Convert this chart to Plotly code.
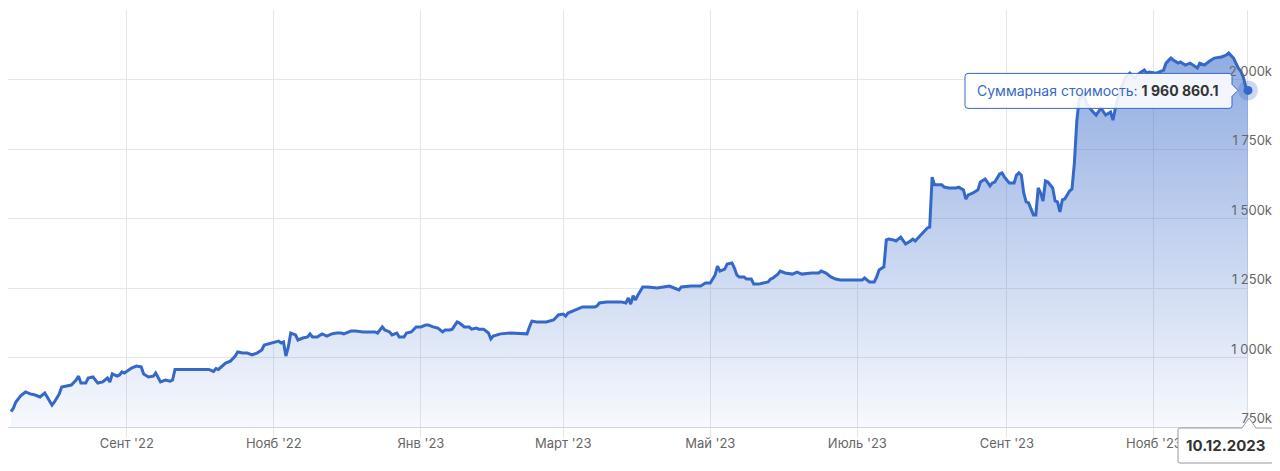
import pandas as pd
import plotly.graph_objects as go

# portfolio value, thousands of rubles
dates = [
    '2022-07-15', '2022-07-16', '2022-07-17', '2022-07-19', '2022-07-21', '2022-07-23', '2022-07-25', '2022-07-27',
    '2022-07-29', '2022-07-30', '2022-08-01', '2022-08-02', '2022-08-04', '2022-08-05', '2022-08-07', '2022-08-09',
    '2022-08-11', '2022-08-12', '2022-08-13', '2022-08-15', '2022-08-16', '2022-08-18', '2022-08-20', '2022-08-22',
    '2022-08-24', '2022-08-25', '2022-08-26', '2022-08-28', '2022-08-29', '2022-08-30', '2022-08-31', '2022-09-02',
    '2022-09-03', '2022-09-05', '2022-09-07', '2022-09-08', '2022-09-10', '2022-09-12', '2022-09-13', '2022-09-15',
    '2022-09-17', '2022-09-19', '2022-09-20', '2022-09-21', '2022-09-26', '2022-10-05', '2022-10-07', '2022-10-08',
    '2022-10-09', '2022-10-12', '2022-10-14', '2022-10-16', '2022-10-17', '2022-10-19', '2022-10-21', '2022-10-23',
    '2022-10-25', '2022-10-27', '2022-10-28', '2022-10-31', '2022-11-01', '2022-11-03', '2022-11-04', '2022-11-05',
    '2022-11-06', '2022-11-07', '2022-11-08', '2022-11-10', '2022-11-11', '2022-11-13', '2022-11-15', '2022-11-16',
    '2022-11-17', '2022-11-19', '2022-11-21', '2022-11-23', '2022-11-25', '2022-11-27', '2022-11-29', '2022-11-30',
    '2022-12-03', '2022-12-05', '2022-12-08', '2022-12-11', '2022-12-13', '2022-12-14', '2022-12-16', '2022-12-17',
    '2022-12-19', '2022-12-20', '2022-12-22', '2022-12-23', '2022-12-25', '2022-12-26', '2022-12-28', '2022-12-30',
    '2023-01-01', '2023-01-03', '2023-01-04', '2023-01-06', '2023-01-08', '2023-01-10', '2023-01-11', '2023-01-13',
    '2023-01-14', '2023-01-16', '2023-01-17', '2023-01-19', '2023-01-21', '2023-01-22', '2023-01-24', '2023-01-25',
    '2023-01-27', '2023-01-29', '2023-01-30', '2023-01-31', '2023-02-03', '2023-02-07', '2023-02-11', '2023-02-14',
    '2023-02-15', '2023-02-16', '2023-02-18', '2023-02-22', '2023-02-25', '2023-02-27', '2023-03-01', '2023-03-02',
    '2023-03-03', '2023-03-05', '2023-03-07', '2023-03-09', '2023-03-12', '2023-03-14', '2023-03-15', '2023-03-16',
    '2023-03-19', '2023-03-25', '2023-03-27', '2023-03-28', '2023-03-29', '2023-03-30', '2023-03-31', '2023-04-01',
    '2023-04-03', '2023-04-05', '2023-04-09', '2023-04-12', '2023-04-14', '2023-04-16', '2023-04-18', '2023-04-19',
    '2023-04-23', '2023-04-27', '2023-04-29', '2023-05-01', '2023-05-03', '2023-05-04', '2023-05-05', '2023-05-07',
    '2023-05-08', '2023-05-10', '2023-05-11', '2023-05-12', '2023-05-13', '2023-05-15', '2023-05-16', '2023-05-18',
    '2023-05-19', '2023-05-21', '2023-05-23', '2023-05-25', '2023-05-26', '2023-05-27', '2023-05-29', '2023-05-30',
    '2023-06-01', '2023-06-04', '2023-06-06', '2023-06-08', '2023-06-12', '2023-06-15', '2023-06-16', '2023-06-18',
    '2023-06-20', '2023-06-22', '2023-06-24', '2023-06-29', '2023-07-03', '2023-07-04', '2023-07-06', '2023-07-08',
    '2023-07-09', '2023-07-10', '2023-07-12', '2023-07-13', '2023-07-14', '2023-07-16', '2023-07-17', '2023-07-19',
    '2023-07-21', '2023-07-23', '2023-07-24', '2023-07-25', '2023-07-27', '2023-07-28', '2023-07-30', '2023-07-31',
    '2023-08-01', '2023-08-02', '2023-08-03', '2023-08-05', '2023-08-06', '2023-08-08', '2023-08-11', '2023-08-12',
    '2023-08-14', '2023-08-15', '2023-08-16', '2023-08-18', '2023-08-20', '2023-08-21', '2023-08-23', '2023-08-25',
    '2023-08-26', '2023-08-27', '2023-08-29', '2023-08-30', '2023-08-31', '2023-09-02', '2023-09-04', '2023-09-05',
    '2023-09-06', '2023-09-07', '2023-09-08', '2023-09-09', '2023-09-10', '2023-09-12', '2023-09-13', '2023-09-14',
    '2023-09-15', '2023-09-16', '2023-09-17', '2023-09-18', '2023-09-20', '2023-09-21', '2023-09-22', '2023-09-23',
    '2023-09-24', '2023-09-25', '2023-09-27', '2023-09-28', '2023-09-29', '2023-09-30', '2023-10-01', '2023-10-03',
    '2023-10-04', '2023-10-06', '2023-10-08', '2023-10-10', '2023-10-12', '2023-10-14', '2023-10-15', '2023-10-16',
    '2023-10-18', '2023-10-20', '2023-10-22', '2023-10-24', '2023-10-26', '2023-10-28', '2023-10-29', '2023-10-30',
    '2023-11-02', '2023-11-03', '2023-11-05', '2023-11-06', '2023-11-08', '2023-11-09', '2023-11-11', '2023-11-12',
    '2023-11-14', '2023-11-16', '2023-11-18', '2023-11-19', '2023-11-20', '2023-11-22', '2023-11-24', '2023-11-26',
    '2023-11-29', '2023-12-01', '2023-12-02', '2023-12-04', '2023-12-06', '2023-12-07', '2023-12-08', '2023-12-09',
    '2023-12-10',
]

values_k = [
    805, 818, 840, 862, 876, 869, 865, 858,
    872, 858, 829, 840, 869, 894, 897, 901,
    919, 933, 908, 908, 926, 930, 908, 912,
    926, 912, 941, 933, 937, 948, 944, 955,
    962, 969, 966, 941, 930, 933, 944, 912,
    919, 915, 919, 957, 957, 957, 950, 960,
    957, 980, 987, 1005, 1020, 1016, 1016, 1009,
    1016, 1027, 1045, 1052, 1052, 1059, 1052, 1056,
    1005, 1038, 1088, 1081, 1063, 1070, 1074, 1085,
    1074, 1074, 1085, 1077, 1085, 1088, 1088, 1085,
    1095, 1095, 1092, 1092, 1092, 1088, 1110, 1099,
    1092, 1081, 1088, 1074, 1074, 1088, 1092, 1110,
    1110, 1117, 1117, 1110, 1106, 1092, 1099, 1099,
    1102, 1128, 1124, 1110, 1110, 1102, 1106, 1102,
    1102, 1088, 1067, 1077, 1085, 1088, 1085, 1085,
    1110, 1131, 1128, 1128, 1135, 1153, 1156, 1149,
    1160, 1167, 1174, 1182, 1182, 1182, 1185, 1196,
    1200, 1200, 1196, 1214, 1192, 1222, 1207, 1225,
    1254, 1254, 1250, 1254, 1257, 1250, 1243, 1254,
    1257, 1257, 1268, 1268, 1297, 1329, 1311, 1318,
    1336, 1340, 1322, 1297, 1290, 1290, 1282, 1282,
    1264, 1264, 1268, 1272, 1282, 1286, 1300, 1311,
    1304, 1300, 1307, 1300, 1304, 1304, 1311, 1304,
    1290, 1282, 1279, 1279, 1279, 1286, 1272, 1272,
    1290, 1315, 1326, 1423, 1426, 1423, 1419, 1433,
    1408, 1419, 1426, 1419, 1437, 1448, 1466, 1469,
    1649, 1621, 1621, 1621, 1613, 1610, 1610, 1613,
    1603, 1570, 1585, 1592, 1603, 1631, 1642, 1617,
    1628, 1631, 1660, 1664, 1649, 1628, 1628, 1656,
    1664, 1656, 1592, 1560, 1556, 1513, 1513, 1610,
    1592, 1563, 1635, 1631, 1610, 1563, 1560, 1524,
    1567, 1570, 1599, 1606, 1700, 1850, 1930, 1945,
    1915, 1890, 1872, 1897, 1872, 1883, 1854, 1897,
    1962, 2005, 2023, 2005, 2023, 2034, 2023, 2027,
    2023, 2027, 2034, 2059, 2077, 2070, 2059, 2063,
    2052, 2059, 2048, 2041, 2059, 2052, 2066, 2077,
    2081, 2088, 2095, 2077, 2041, 2030, 2010, 1975,
    1960.8601,
]

month_ticks = ['2022-09-01', '2022-11-01', '2023-01-01', '2023-03-01',
               '2023-05-01', '2023-07-01', '2023-09-01', '2023-11-01']
month_labels = ["Сент '22", "Нояб '22", "Янв '23", "Март '23",
                "Май '23", "Июль '23", "Сент '23", "Нояб '23"]

value_ticks = [750000, 1000000, 1250000, 1500000, 1750000, 2000000, 2250000]
value_labels = ['750k', '1 000k', '1 250k', '1 500k', '1 750k', '2 000k', '']

series_name = 'Суммарная стоимость'

BLUE = '#3568c9'
FONT = 'Inter, Roboto, sans-serif'

df = pd.DataFrame({'date': pd.to_datetime(dates), 'value': [v * 1000 for v in values_k]})
last = df.iloc[-1]
last_text = '{:,.1f}'.format(last['value']).replace(',', ' ')

graph = []

graph.append(
    go.Scatter(
        x=df['date'], y=df['value'],
        mode='lines',
        line=dict(color=BLUE, width=3),
        fill='tozeroy',
        fillgradient=dict(type='vertical', start=750000, stop=2100000,
                          colorscale=[[0, 'rgba(53,104,201,0.04)'], [1, 'rgba(53,104,201,0.55)']]),
        name=series_name,
        hoverinfo='skip'
    )
)

# hovered point with halo
graph.append(
    go.Scatter(
        x=[last['date']], y=[last['value']],
        mode='markers',
        marker=dict(size=20, color='rgba(53,104,201,0.25)'),
        cliponaxis=False,
        hoverinfo='skip'
    )
)
graph.append(
    go.Scatter(
        x=[last['date']], y=[last['value']],
        mode='markers',
        marker=dict(size=9, color=BLUE),
        cliponaxis=False,
        hoverinfo='skip'
    )
)

# tooltip callout and the date badge under the x axis
tooltip_path = ('M -280,17 L -19,17 Q -16,17 -16,14 L -16,6 L -10,0 L -16,-6 L -16,-15 Q -16,-18 -19,-18 '
                'L -280,-18 Q -283,-18 -283,-15 L -283,14 Q -283,17 -280,17 Z')
badge_path = ('M -68,-1 L -6,-1 L 1,9 L 8,-1 L 23,-1 Q 25,-1 25,-3 L 25,-34 Q 25,-36 23,-36 '
              'L -68,-36 Q -70,-36 -70,-34 L -70,-3 Q -70,-1 -68,-1 Z')

shapes = [
    dict(type='line', xref='x', yref='paper', x0=last['date'], x1=last['date'], y0=0, y1=1,
         line=dict(color='#cccccc', width=1), layer='below'),
    dict(type='path', xref='x', yref='y', xsizemode='pixel', ysizemode='pixel',
         xanchor=last['date'], yanchor=last['value'], path=tooltip_path,
         fillcolor='rgba(255,255,255,0.88)', line=dict(color=BLUE, width=1), layer='above'),
    dict(type='path', xref='paper', yref='paper', xsizemode='pixel', ysizemode='pixel',
         xanchor=1, yanchor=0, path=badge_path,
         fillcolor='white', line=dict(color='#9a9a9a', width=1), layer='above'),
]

annotations = [
    dict(x=last['date'], y=last['value'], xref='x', yref='y', xanchor='right', yanchor='middle',
         xshift=-27, showarrow=False,
         text='<span style="color:%s">%s: </span><b>%s</b>' % (BLUE, series_name, last_text),
         font=dict(family=FONT, size=14, color='#333333')),
    dict(x=1, y=0, xref='paper', yref='paper', xanchor='center', yanchor='middle',
         xshift=-23, yshift=-18, showarrow=False,
         text='<b>%s</b>' % last['date'].strftime('%d.%m.%Y'),
         font=dict(family=FONT, size=15, color='#333333')),
]

# page body has an 8px margin, so the figure is 8px smaller than the window
layout = dict(
    width=1272, height=463,
    margin=dict(l=0, r=32, t=2, b=44),
    paper_bgcolor='white', plot_bgcolor='white',
    showlegend=False,
    hovermode=False,
    font=dict(family=FONT, size=13, color='#666666'),
    xaxis=dict(type='date', range=['2022-07-13 18:00', '2023-12-10'],
               tickvals=month_ticks, ticktext=month_labels,
               showgrid=True, gridcolor='#e6e6e6', gridwidth=1,
               ticks='outside', ticklen=10, tickcolor='#e6e6e6',
               ticklabelstandoff=-6,
               showline=True, linecolor='#ccd6eb', linewidth=1,
               zeroline=False, tickfont=dict(size=13, color='#666666')),
    yaxis=dict(range=[750000, 2250000], side='right',
               tickvals=value_ticks, ticktext=value_labels,
               ticklabelposition='inside top', ticklabelstandoff=-27, ticklabelshift=1,
               showgrid=True, gridcolor='#e6e6e6', gridwidth=1,
               showline=False, zeroline=False, ticks='',
               tickfont=dict(size=13, color='#666666')),
    shapes=shapes,
    annotations=annotations,
)

fig = go.Figure(data=graph, layout=layout)
fig.write_html('out.html')
